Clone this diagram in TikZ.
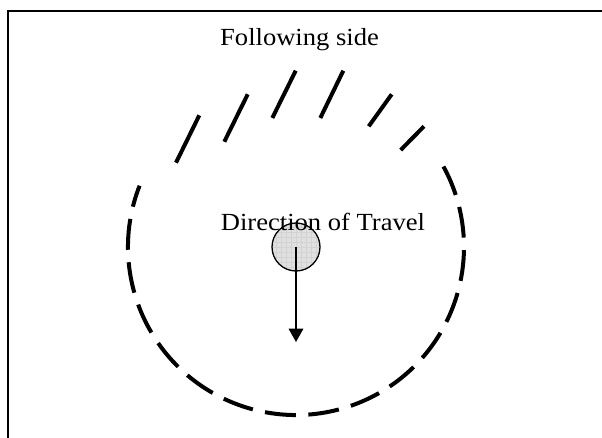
\documentclass[tikz,border=0pt]{standalone}
\usepackage{fontspec}
\setmainfont[FakeStretch=1.08]{Liberation Serif}
\usetikzlibrary{arrows.meta}
\begin{document}
\begin{tikzpicture}[x=1pt,y=-1pt,
  frame/.style={line width=2pt},
  label/.style={inner sep=0pt,font=\fontsize{24.6}{28}\selectfont},
  stroke/.style={line width=4pt},
  ring/.style={line width=4pt,dash pattern=on 31pt off 12.5pt,dash phase=9pt},
  ballstyle/.style={circle,draw,line width=1.3pt,fill={rgb,255:red,224;green,224;blue,224},minimum size=48pt,inner sep=0pt,
    path picture={\draw[gray!35,line width=0.3pt] (path picture bounding box.south west) grid[step=5pt] (path picture bounding box.north east);}},
  travel/.style={line width=1.5pt,-{Triangle[width=14.6pt,length=13.3pt]}}]
\useasboundingbox (0,0) rectangle (602,437);
\draw[frame] (8,10.5) rectangle (640,480);
\node[label,anchor=base west] (following) at (220,45) {Following side};
% dashed ring around the ball
\draw[ring,shift={(296,247)}] (201.4:168) arc[start angle=201.4,end angle=-30.7,radius=168];
% slanted strokes on the following side
\draw[stroke] (199.3,115.3) -- (176,162.7);
\draw[stroke] (247.7,94.3) -- (224.3,141.7);
\draw[stroke] (295.7,70.7) -- (272.3,118);
\draw[stroke] (343.3,70.7) -- (320.3,118);
\draw[stroke] (391.7,94.3) -- (368.7,126.3);
\draw[stroke] (424,126.3) -- (400.7,150);
\node[ballstyle] (ball) at (296,247) {};
\node[label,anchor=base west] (direction) at (220.7,230) {Direction of Travel};
\coordinate (tip) at (296,342);
\draw[travel] (ball.center) -- (tip);
\end{tikzpicture}
\end{document}
